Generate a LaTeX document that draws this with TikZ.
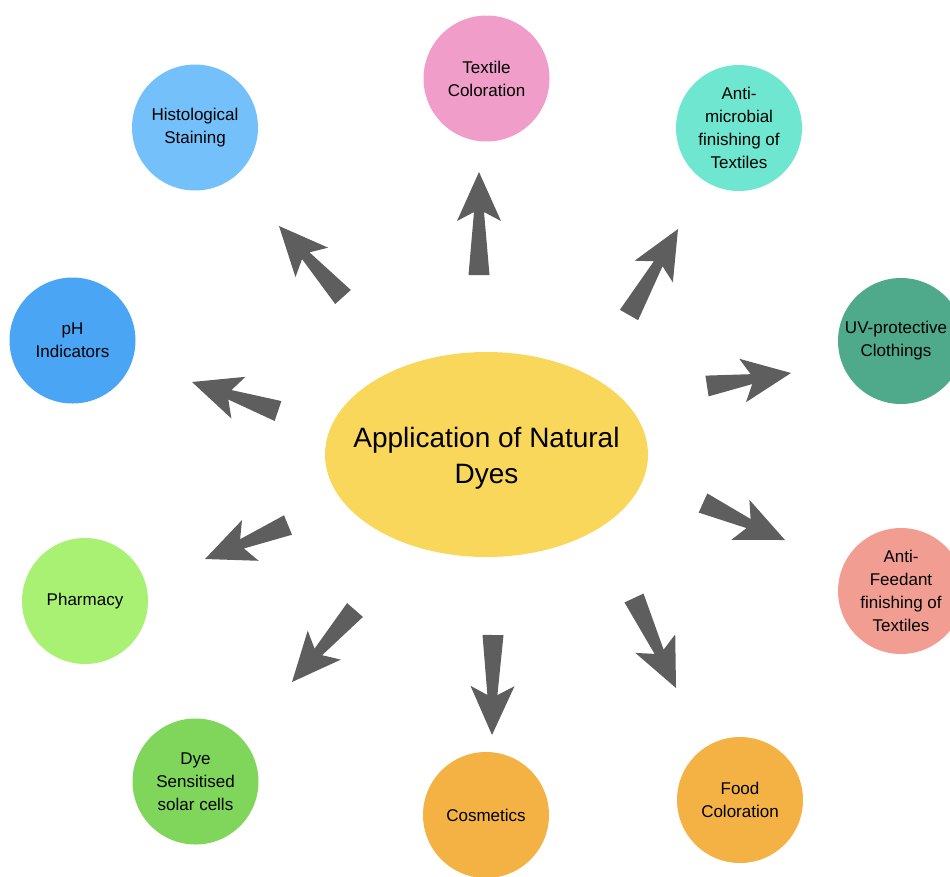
\documentclass[tikz,border=0pt]{standalone}
\usepackage{fontspec}
\setmainfont{Liberation Sans}
\usetikzlibrary{calc,shapes.geometric}
\definecolor{cEll}{HTML}{F8D75A}
\definecolor{cTex}{HTML}{F09DC9}
\definecolor{cHis}{HTML}{74C0FA}
\definecolor{cMic}{HTML}{6EE6D0}
\definecolor{cUV}{HTML}{4FAA8C}
\definecolor{cPH}{HTML}{4AA5F5}
\definecolor{cFeed}{HTML}{F29D92}
\definecolor{cPha}{HTML}{A8F173}
\definecolor{cDye}{HTML}{7FD65A}
\definecolor{cOra}{HTML}{F3B243}
\definecolor{cArr}{HTML}{5E5E5E}
\newcommand\fatarrow[2]{%
  \fill[arrowfill] ($(#1)!10.5pt!90:(#2)$) -- ($(#2)!40pt!(#1)!5pt!-90:(#1)$)
    -- ($(#2)!49pt!(#1)!22pt!-90:(#1)$) -- (#2)
    -- ($(#2)!49pt!(#1)!22pt!90:(#1)$) -- ($(#2)!40pt!(#1)!5pt!90:(#1)$)
    -- ($(#1)!10.5pt!-90:(#2)$) -- cycle;}
\tikzset{
  app/.style={circle, minimum size=126pt, inner sep=0pt},
  lbl/.style={align=center, font=\fontsize{17}{23}\selectfont, text=black, inner sep=0pt},
  arrowfill/.style={fill=cArr},
}
\begin{document}
\begin{tikzpicture}[x=1pt,y=-1pt]
\useasboundingbox (0,0) rectangle (950,876);
\node[ellipse, fill=cEll, minimum width=323pt, minimum height=205pt, inner sep=0pt] (c) at (486.5,454.5) {};
\node[align=center, font=\fontsize{28}{36}\selectfont, inner sep=0pt] (ct) at (486.5,458.5) {Application of Natural\\Dyes};
\node[app, fill=cTex] (tex) at (486.5,78.5) {};
\node[lbl] (texL) at (tex) {Textile\\Coloration};
\node[app, fill=cHis] (his) at (195,127.5) {};
\node[lbl] (hisL) at (his) {Histological\\Staining};
\node[app, fill=cMic] (mic) at (739,128) {};
\node[lbl] (micL) at (mic) {Anti-\\microbial\\finishing of\\Textiles};
\node[app, fill=cUV] (uv) at (901,341) {};
\node[lbl] (uvL) at (896,341) {UV-protective\\Clothings};
\node[app, fill=cPH] (ph) at (72.5,340.5) {};
\node[lbl] (phL) at (ph) {pH\\Indicators};
\node[app, fill=cFeed] (feed) at (901,591) {};
\node[lbl] (feedL) at (feed) {Anti-\\Feedant\\finishing of\\Textiles};
\node[app, fill=cPha] (pha) at (85,601) {};
\node[lbl] (phaL) at (pha) {Pharmacy};
\node[app, fill=cDye] (dye) at (195.5,781.5) {};
\node[lbl] (dyeL) at (dye) {Dye\\Sensitised\\solar cells};
\node[app, fill=cOra] (cos) at (486,815) {};
\node[lbl] (cosL) at (cos) {Cosmetics};
\node[app, fill=cOra] (food) at (740,800) {};
\node[lbl] (foodL) at (food) {Food\\Coloration};
% arrow tails and tips
\coordinate (t1) at (479,275); \coordinate (h1) at (479,172);
\coordinate (t2) at (343,297); \coordinate (h2) at (279,226);
\coordinate (t3) at (629,315); \coordinate (h3) at (678,229);
\coordinate (t4) at (707,386); \coordinate (h4) at (791,373);
\coordinate (t5) at (278,411); \coordinate (h5) at (192,382);
\coordinate (t6) at (288,525); \coordinate (h6) at (205,559);
\coordinate (t7) at (355,610); \coordinate (h7) at (292,682);
\coordinate (t8) at (493,635); \coordinate (h8) at (492,735);
\coordinate (t9) at (634,598); \coordinate (h9) at (676,688);
\coordinate (t10) at (703,503); \coordinate (h10) at (785,540);
\foreach \i in {1,...,10} {\fatarrow{t\i}{h\i}}
\end{tikzpicture}
\end{document}
